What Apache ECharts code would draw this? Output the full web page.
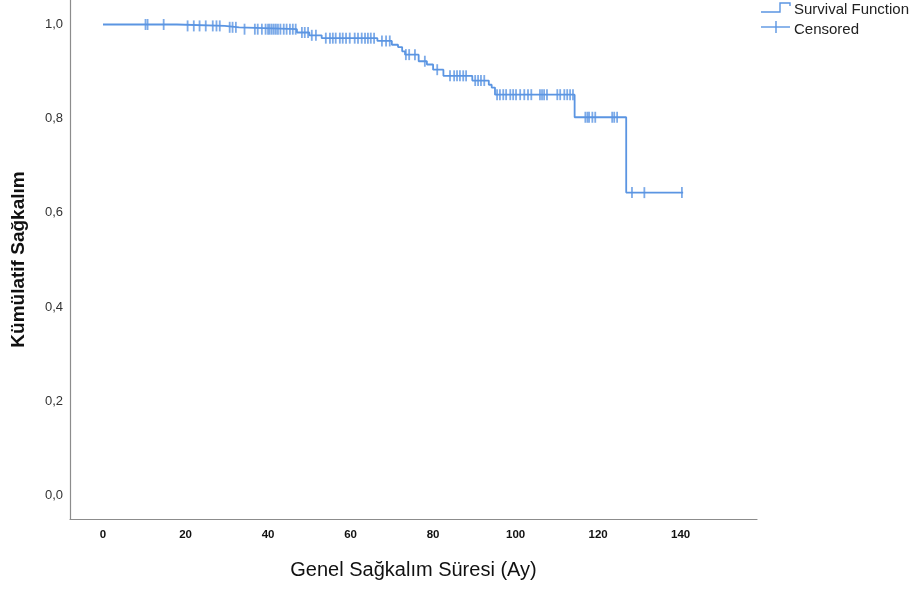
<!DOCTYPE html>
<html>
<head>
<meta charset="utf-8">
<script src="https://cdn.jsdelivr.net/npm/echarts@6/dist/echarts.min.js"></script>
<style>
html,body{margin:0;padding:0;background:#fff;}
#chart{width:917px;height:591px;}
</style>
</head>
<body>
<div id="chart"></div>
<script>
// Kaplan-Meier step data (event time in months, survival after event)
const eventTimes   = [0, 17.9, 29.5, 33.0, 47.0, 50.0, 53.0, 66.5, 70.0, 71.5, 72.5, 73.2, 76.5, 78.5, 80.0, 82.5, 89.5, 93.5, 94.2, 95.0, 114.3, 126.8];
const survivalVals = [1.0, 0.997, 0.994, 0.990, 0.983, 0.977, 0.971, 0.965, 0.957, 0.952, 0.943, 0.936, 0.922, 0.915, 0.904, 0.891, 0.881, 0.872, 0.866, 0.851, 0.803, 0.643];
const lastTime = 140.6;
// censored observation times (months)
const censorTimes = [10.3, 10.8, 14.7, 20.5, 22.0, 23.4, 24.9, 26.6, 27.5, 28.3, 30.7, 31.4, 32.2, 34.3, 36.8, 37.5, 38.5,
  39.4, 40.0, 40.4, 40.9, 41.4, 41.9, 42.4, 43.0, 43.8, 44.5, 45.3, 46.0, 46.7, 48.2, 48.9, 49.7, 50.6, 51.6,
  54.0, 55.0, 55.7, 56.4, 57.4, 58.1, 58.9, 59.8, 61.0, 61.8, 62.7, 63.5, 64.2, 64.9, 65.7, 67.6, 68.6, 69.5,
  73.4, 74.2, 75.6, 78.0, 81.0, 84.1, 85.1, 85.8, 86.5, 87.3, 88.0, 90.2, 90.9, 91.6, 92.4,
  95.5, 96.2, 97.0, 97.7, 98.7, 99.4, 100.1, 101.1, 102.1, 103.0, 103.8, 105.9, 106.4, 106.9, 107.6,
  110.1, 110.8, 111.8, 112.5, 113.2, 113.9, 116.9, 117.4, 117.8, 118.6, 119.3, 123.4, 123.9, 124.6,
  128.2, 131.2, 140.3];
const xLabelStep = 20;
const yLabelStep = 0.2;
const xTitle = 'Genel Sağkalım Süresi (Ay)';
const yTitle = 'Kümülatif Sağkalım';
const legendNames = ['Survival Function', 'Censored'];

const color = '#5b95e2';
const font = 'Liberation Sans, Arial, sans-serif';
const lineData = eventTimes.map((t, i) => [t, survivalVals[i]]);
lineData.push([lastTime, survivalVals[survivalVals.length - 1]]);
function survAt(t) {
  let s = survivalVals[0];
  for (let i = 0; i < eventTimes.length; i++) { if (eventTimes[i] <= t) s = survivalVals[i]; }
  return s;
}
const censorData = censorTimes.map(t => [t, survAt(t)]);

const chart = echarts.init(document.getElementById('chart'), null, {renderer: 'canvas'});
chart.setOption({
  animation: false,
  backgroundColor: '#fff',
  grid: {left: 70, right: 160, top: 0, bottom: 72, containLabel: false},
  xAxis: {
    type: 'value', min: -8, max: 158.5, interval: 4,
    axisLine: {show: true, onZero: false, lineStyle: {color: '#8c8c8c', width: 1.2}},
    axisTick: {show: false}, splitLine: {show: false},
    axisLabel: {
      margin: 10, color: '#111', fontWeight: 'bold', fontSize: 11.5, fontFamily: font,
      showMaxLabel: false,
      formatter: v => (v >= 0 && Math.abs(v / xLabelStep - Math.round(v / xLabelStep)) < 1e-6) ? String(Math.round(v)) : ''
    },
    name: xTitle, nameLocation: 'middle', nameGap: 41,
    nameTextStyle: {fontSize: 20, color: '#111', fontFamily: font}
  },
  yAxis: {
    type: 'value', min: -0.05, max: 1.052, interval: 0.05,
    axisLine: {show: true, onZero: false, lineStyle: {color: '#8c8c8c', width: 1.2}},
    axisTick: {show: false}, splitLine: {show: false},
    axisLabel: {
      margin: 7, color: '#333', fontSize: 13, fontFamily: font,
      showMaxLabel: false, showMinLabel: false,
      formatter: v => (v >= -1e-6 && v <= 1.0001 && Math.abs(v / yLabelStep - Math.round(v / yLabelStep)) < 1e-6) ? v.toFixed(1).replace('.', ',') : ''
    },
    name: yTitle, nameLocation: 'middle', nameGap: 42, nameRotate: 90,
    nameTextStyle: {fontSize: 19, fontWeight: 'bold', color: '#111', fontFamily: font}
  },
  series: [
    {
      name: legendNames[0], type: 'line', step: 'end', data: lineData,
      showSymbol: false, symbol: 'none',
      lineStyle: {color: color, width: 1.8}, z: 2
    },
    {
      name: legendNames[1], type: 'scatter', data: censorData,
      symbol: 'rect', symbolSize: [1.8, 11],
      itemStyle: {color: color}, z: 3
    }
  ],
  graphic: [
    {type: 'polyline', shape: {points: [[761, 12], [780, 12], [780, 3], [790, 3], [790, 6]]}, style: {stroke: color, lineWidth: 1.4, fill: null}},
    {type: 'text', left: 794, top: 2, style: {text: legendNames[0], fontSize: 15, fill: '#222', fontFamily: font}},
    {type: 'line', shape: {x1: 761, y1: 27, x2: 790, y2: 27}, style: {stroke: color, lineWidth: 1.4}},
    {type: 'line', shape: {x1: 776, y1: 21, x2: 776, y2: 33}, style: {stroke: color, lineWidth: 1.4}},
    {type: 'text', left: 794, top: 22, style: {text: legendNames[1], fontSize: 15, fill: '#222', fontFamily: font}}
  ]
});
</script>
</body>
</html>
